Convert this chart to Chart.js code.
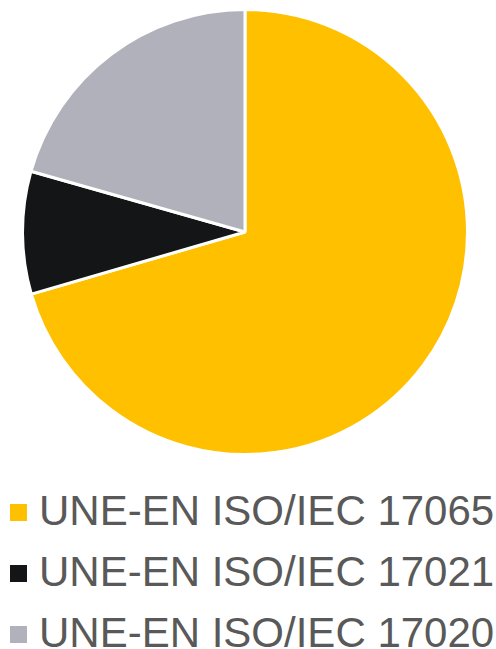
<!DOCTYPE html>
<html>
<head>
<meta charset="utf-8">
<script src="https://cdn.jsdelivr.net/npm/chart.js@4/dist/chart.umd.min.js"></script>
<style>
  html, body { margin: 0; padding: 0; background: #fff; }
  #wrap { position: relative; width: 496px; height: 649px; overflow: hidden; }
  #chartBox { position: absolute; left: 0; top: 0; width: 496px; height: 464px; }
  #legend { position: absolute; left: 0; top: 480px; width: 496px; }
  .row { display: flex; align-items: center; height: 61px; white-space: nowrap; }
  .sw { width: 17px; height: 17px; margin-left: 10px; margin-right: 12px; margin-top: 3px; flex: none; }
  .lbl { font-family: "Liberation Sans", Arial, sans-serif; font-size: 42px; color: #595959; line-height: 61px; }
</style>
</head>
<body>
<div id="wrap">
  <div id="chartBox"><canvas id="chart"></canvas></div>
  <div id="legend"></div>
</div>
<script>
const labels = ['UNE-EN ISO/IEC 17065', 'UNE-EN ISO/IEC 17021', 'UNE-EN ISO/IEC 17020'];
const values = [70.5, 8.9, 20.6];
const colors = ['#FFC000', '#141517', '#B1B1BB'];

const ctx = document.getElementById('chart').getContext('2d');

new Chart(ctx, {
  type: 'pie',
  data: {
    labels: labels,
    datasets: [{
      data: values,
      backgroundColor: colors,
      borderColor: '#ffffff',
      borderWidth: 3
    }]
  },
  options: {
    responsive: true,
    maintainAspectRatio: false,
    animation: false,
    layout: { padding: { top: 8, bottom: 8, left: 0, right: 6 } },
    plugins: {
      legend: { display: false },
      tooltip: { enabled: false }
    }
  }
});

// legend built from the same arrays
const legend = document.getElementById('legend');
labels.forEach((name, i) => {
  const row = document.createElement('div');
  row.className = 'row';
  const sw = document.createElement('span');
  sw.className = 'sw';
  sw.style.background = colors[i];
  const txt = document.createElement('span');
  txt.className = 'lbl';
  txt.textContent = name;
  row.appendChild(sw);
  row.appendChild(txt);
  legend.appendChild(row);
});
</script>
</body>
</html>
